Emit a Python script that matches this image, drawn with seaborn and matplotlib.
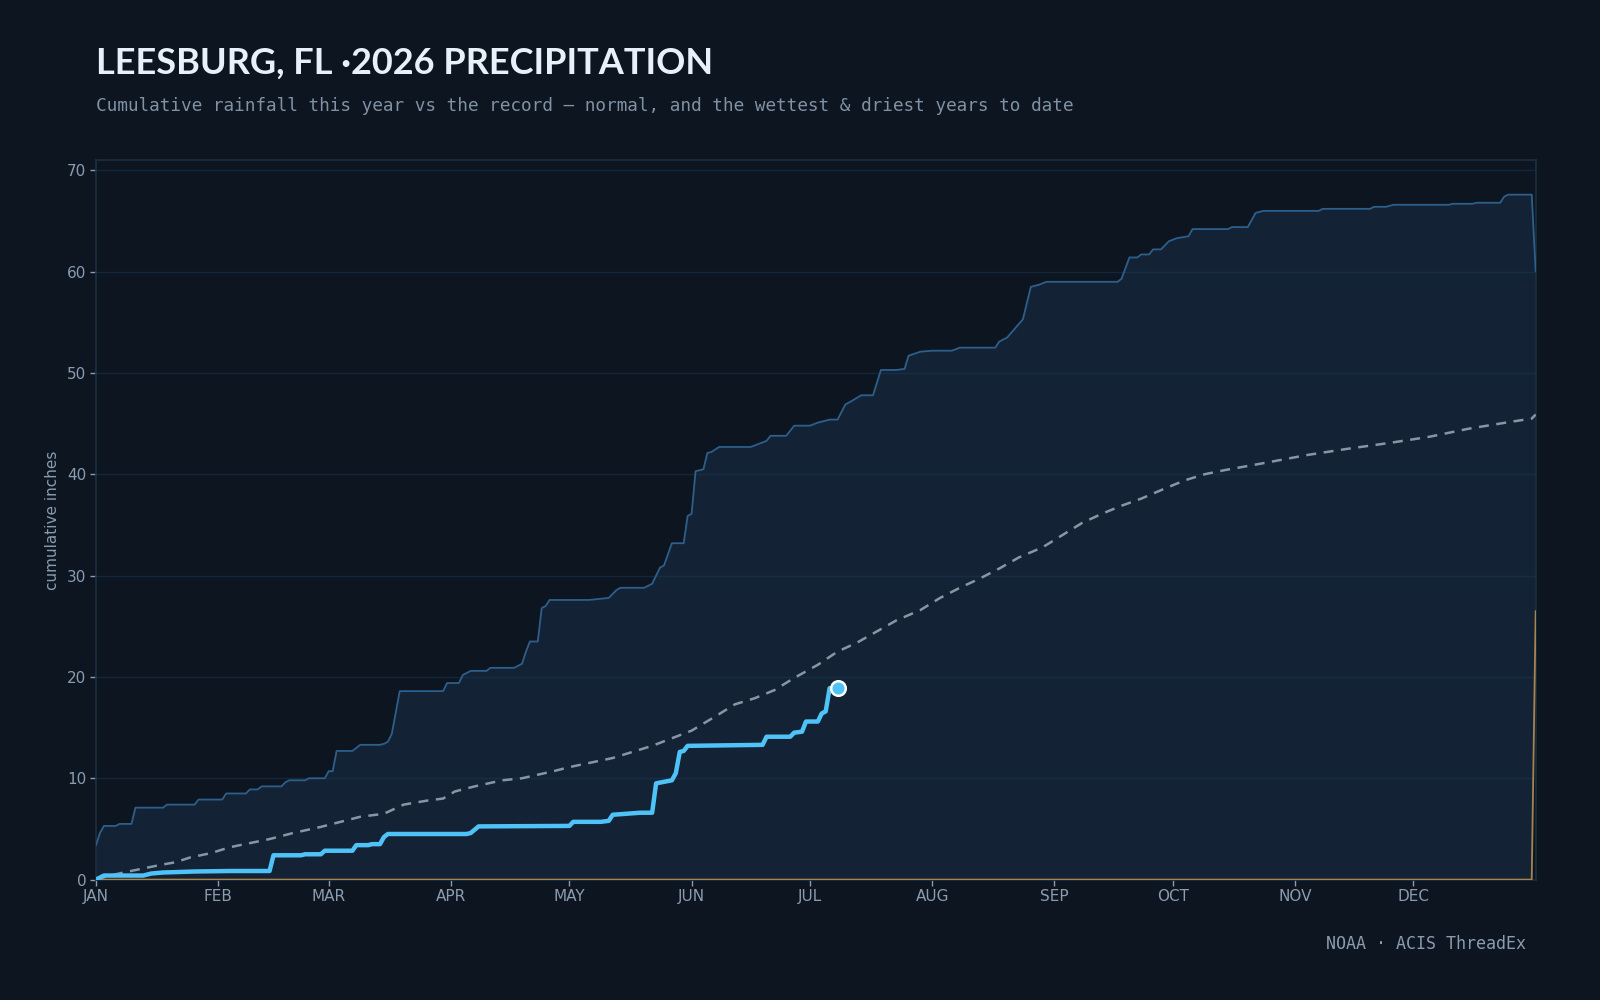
import matplotlib
matplotlib.use("Agg")
import matplotlib.pyplot as plt
import seaborn as sns
import pandas as pd

# month ticks (day of year)
month_starts = [0, 31, 59, 90, 120, 151, 181, 212, 243, 273, 304, 334]
month_labels = ["JAN", "FEB", "MAR", "APR", "MAY", "JUN",
                "JUL", "AUG", "SEP", "OCT", "NOV", "DEC"]

# wettest year to date (cumulative inches)
wet_days = [0, 1, 2, 5, 6, 9, 10, 17, 18, 25, 26, 32, 33, 38, 39, 41, 42, 47, 48, 49,
            53, 54, 58, 59, 60, 61, 65, 67, 72, 73, 74, 75, 76, 77, 88, 89, 92, 93, 95, 99,
            100, 106, 107, 108, 109, 110, 112, 113, 114, 115, 125, 130, 132, 133, 139, 141, 143, 144, 146, 149,
            150, 151, 152, 153, 154, 155, 156, 158, 166, 168, 170, 171, 175, 177, 181, 183, 186, 188, 190, 191,
            194, 197, 199, 203, 205, 206, 209, 212, 217, 219, 228, 229, 231, 233, 235, 237, 239, 241, 259, 260,
            262, 264, 265, 267, 268, 270, 272, 274, 277, 278, 287, 288, 292, 294, 296, 310, 311, 323, 324, 327,
            329, 343, 344, 349, 350, 356, 357, 358, 364, 365]
wet_vals = [3.4, 4.6, 5.3, 5.3, 5.5, 5.5, 7.1, 7.1, 7.4, 7.4, 7.9, 7.9, 8.5, 8.5, 8.9, 8.9, 9.2, 9.2, 9.6, 9.8,
            9.8, 10.0, 10.0, 10.7, 10.7, 12.7, 12.7, 13.3, 13.3, 13.4, 13.6, 14.4, 16.5, 18.6, 18.6, 19.4, 19.4, 20.2, 20.6, 20.6,
            20.9, 20.9, 21.1, 21.3, 22.5, 23.5, 23.5, 26.8, 27.0, 27.6, 27.6, 27.8, 28.6, 28.8, 28.8, 29.2, 30.8, 31.0, 33.2, 33.2,
            35.9, 36.1, 40.3, 40.4, 40.5, 42.1, 42.2, 42.7, 42.7, 43.0, 43.3, 43.8, 43.8, 44.8, 44.8, 45.1, 45.4, 45.4, 46.9, 47.1,
            47.8, 47.8, 50.3, 50.3, 50.4, 51.7, 52.1, 52.2, 52.2, 52.5, 52.5, 53.1, 53.5, 54.4, 55.3, 58.5, 58.7, 59.0, 59.0, 59.3,
            61.4, 61.4, 61.7, 61.7, 62.2, 62.2, 63.0, 63.3, 63.5, 64.2, 64.2, 64.4, 64.4, 65.8, 66.0, 66.0, 66.2, 66.2, 66.4, 66.4,
            66.6, 66.6, 66.7, 66.7, 66.8, 66.8, 67.4, 67.6, 67.6, 60.0]

# driest year to date
dry_days = [0, 364, 365]
dry_vals = [0.0, 0.0, 26.5]

# normal (climatology)
norm_days = [0, 3, 7, 12, 17, 20, 24, 29, 34, 39, 44, 50, 57, 62, 67, 73, 78, 84, 88, 91,
             96, 103, 108, 116, 120, 131, 141, 151, 157, 162, 167, 172, 177, 183, 188, 193, 198, 203, 209, 214,
             219, 224, 229, 234, 240, 245, 250, 255, 260, 265, 271, 276, 281, 286, 296, 307, 317, 328, 338, 348,
             359, 364, 365]
norm_vals = [0.0, 0.35, 0.7, 1.1, 1.5, 1.7, 2.2, 2.6, 3.2, 3.6, 4.0, 4.6, 5.2, 5.7, 6.2, 6.5, 7.4, 7.8, 8.0, 8.7,
             9.2, 9.8, 10.0, 10.7, 11.1, 12.0, 13.2, 14.7, 16.1, 17.3, 17.9, 18.7, 19.9, 21.2, 22.5, 23.4, 24.5, 25.6, 26.6, 27.8,
             28.8, 29.7, 30.7, 31.8, 32.8, 34.0, 35.2, 36.1, 36.9, 37.6, 38.6, 39.4, 40.0, 40.4, 41.1, 41.9, 42.5, 43.1, 43.7, 44.5,
             45.2, 45.5, 45.9]

# this year (2026)
cur_days = [0, 2, 12, 14, 17, 25, 34, 44, 45, 52, 53, 57, 58, 65, 66, 69, 70, 72, 73, 74,
            94, 95, 97, 120, 121, 128, 130, 131, 138, 141, 142, 146, 147, 148, 149, 150, 169, 170, 176, 177,
            179, 180, 183, 184, 185, 186]
cur_vals = [0.0, 0.4, 0.4, 0.6, 0.7, 0.8, 0.85, 0.85, 2.4, 2.4, 2.5, 2.5, 2.85, 2.85, 3.4, 3.4, 3.5, 3.5, 4.2, 4.5,
            4.5, 4.6, 5.25, 5.3, 5.7, 5.7, 5.8, 6.4, 6.6, 6.6, 9.5, 9.8, 10.5, 12.6, 12.7, 13.2, 13.3, 14.1, 14.1, 14.5,
            14.6, 15.6, 15.6, 16.4, 16.6, 18.9]
latest_day = 188
latest_total = 18.9

BG = "#0c1520"
sns.set_theme(style="dark", rc={
    "figure.facecolor": BG,
    "axes.facecolor": BG,
    "axes.edgecolor": "#1b2f44",
    "axes.grid": True,
    "grid.color": "#14263a",
    "grid.linewidth": 1.0,
    "xtick.color": "#8b9cb0",
    "ytick.color": "#8b9cb0",
    "xtick.bottom": True,
    "ytick.left": True,
    "text.color": "#8b9cb0",
    "axes.labelcolor": "#8b9cb0",
})
plt.rcParams["font.family"] = ["DejaVu Sans"]

wet = pd.DataFrame({"day": wet_days, "inches": wet_vals})
dry = pd.DataFrame({"day": dry_days, "inches": dry_vals})
norm = pd.DataFrame({"day": norm_days, "inches": norm_vals})
cur = pd.DataFrame({"day": cur_days, "inches": cur_vals})

fig = plt.figure(figsize=(16, 10), dpi=100)
ax = fig.add_axes([0.06, 0.1204, 0.8998, 0.7194])

# record band between driest and wettest
band_x = list(wet["day"]) + list(dry["day"])[::-1]
band_y = list(wet["inches"]) + list(dry["inches"])[::-1]
ax.fill(band_x, band_y, color="#1e3a55", alpha=0.4, linewidth=0, zorder=1)

sns.lineplot(data=wet, x="day", y="inches", ax=ax, color="#2d5f8a", linewidth=1.3, zorder=3)
sns.lineplot(data=dry, x="day", y="inches", ax=ax, color="#a8844e", linewidth=1.3, zorder=3)
sns.lineplot(data=norm, x="day", y="inches", ax=ax, color="#8796a5", linewidth=1.8,
             linestyle=(0, (4, 3)), zorder=4)
sns.lineplot(data=cur, x="day", y="inches", ax=ax, color="#4fc3f7", linewidth=3.2, zorder=5)
ax.lines[-1].set_solid_joinstyle("round")
ax.lines[-1].set_solid_capstyle("round")
sns.scatterplot(x=[latest_day], y=[latest_total], ax=ax, color="#4fc3f7", s=110,
                edgecolor="white", linewidth=1.8, zorder=6)

ax.set_xlim(0, 365)
ax.set_ylim(0, 71)
ax.set_xticks(month_starts)
ax.set_xticklabels(month_labels)
ax.set_yticks(range(0, 71, 10))
ax.grid(axis="x", visible=False)
ax.tick_params(axis="both", length=4, width=1, color="#8b9cb0", labelsize=11, pad=3)
ax.set_xlabel("")
ax.set_ylabel("cumulative inches", fontsize=11, labelpad=5)
for sp in ax.spines.values():
    sp.set_color("#1b2f44")
    sp.set_linewidth(1.2)

fig.text(0.06, 0.937, "LEESBURG, FL \u00b72026 PRECIPITATION", family=["Lato", "DejaVu Sans"],
         fontweight="bold", fontsize=26, color="#e8f1fa", va="center", ha="left")
fig.text(0.06, 0.894, "Cumulative rainfall this year vs the record \u2014 normal, and the wettest & driest years to date",
         family=["DejaVu Sans Mono"], fontsize=12.8, color="#7f91a3", va="center", ha="left")
fig.text(0.954, 0.056, "NOAA \u00b7 ACIS ThreadEx", family=["DejaVu Sans Mono"], fontsize=12,
         color="#8b9cb0", va="center", ha="right")

fig.savefig("out.png", dpi=100, facecolor=BG)
